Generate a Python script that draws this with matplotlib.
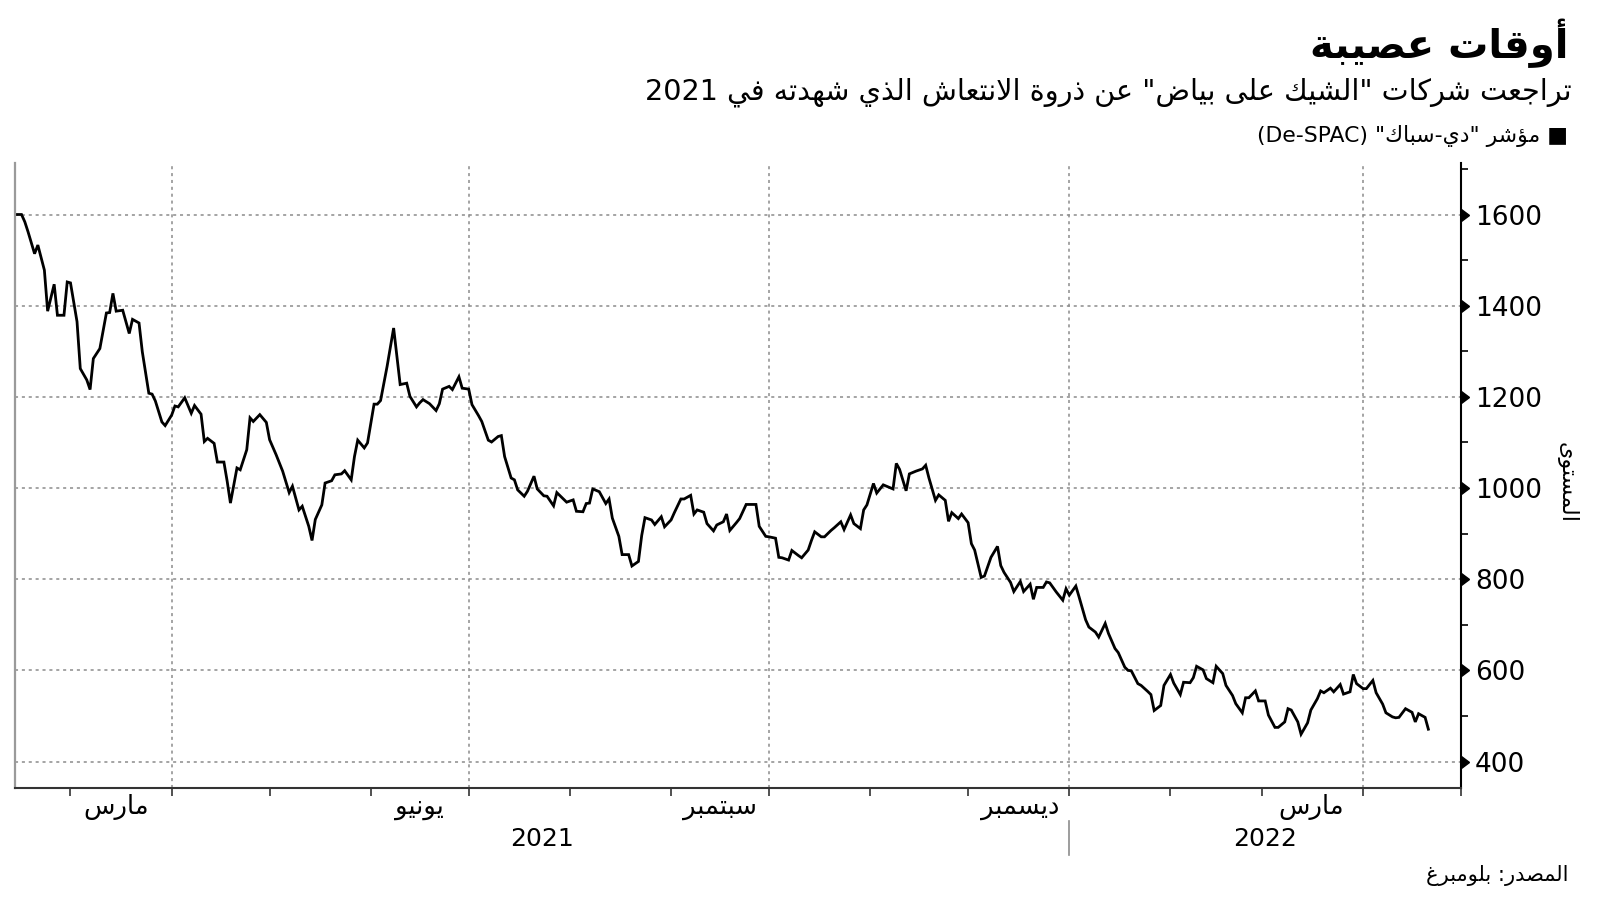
import re
import numpy as np
import pandas as pd
import matplotlib
matplotlib.use('Agg')
import matplotlib.pyplot as plt
import matplotlib.dates as mdates
import matplotlib.markers as mmarkers
from matplotlib.transforms import blended_transform_factory

# De-SPAC index (days counted from the first point)
start = pd.Timestamp('2021-02-12')
day = [0, 2, 3, 4, 6, 7, 9, 10, 12, 13, 15, 16, 17, 19, 20, 22, 23, 24, 26, 28,
       29, 30, 31, 33, 35, 36, 38, 39, 41, 42, 43, 45, 46, 48, 49, 50, 52, 54, 55, 57,
       58, 59, 61, 62, 64, 65, 66, 68, 69, 71, 72, 73, 75, 77, 78, 80, 82, 84, 85, 87,
       88, 90, 91, 92, 94, 95, 97, 98, 100, 101, 103, 104, 105, 107, 108, 110, 111, 112, 114, 116,
       117, 118, 120, 121, 123, 124, 125, 127, 129, 130, 131, 133, 134, 136, 137, 139, 140, 142, 143, 145,
       146, 148, 149, 150, 152, 153, 154, 156, 157, 159, 160, 162, 163, 165, 166, 168, 169, 171, 172, 174,
       175, 176, 177, 179, 181, 182, 183, 185, 186, 188, 189, 191, 192, 193, 195, 196, 198, 199, 201, 202,
       204, 205, 207, 208, 209, 211, 212, 214, 215, 217, 218, 219, 221, 222, 224, 225, 227, 228, 230, 231,
       233, 234, 235, 237, 238, 240, 241, 243, 244, 245, 247, 248, 250, 251, 253, 254, 256, 257, 259, 260,
       261, 263, 264, 266, 267, 269, 270, 271, 273, 274, 276, 278, 279, 280, 282, 283, 285, 286, 287, 289,
       290, 292, 293, 294, 296, 297, 299, 301, 302, 303, 305, 306, 308, 309, 311, 312, 313, 315, 316, 317,
       319, 321, 322, 323, 325, 326, 328, 329, 331, 332, 334, 335, 337, 338, 340, 341, 342, 344, 345, 347,
       348, 349, 351, 352, 354, 355, 357, 358, 360, 361, 362, 364, 365, 367, 368, 370, 371, 373, 374, 376,
       377, 378, 380, 381, 383, 384, 386, 387, 389, 390, 391, 393, 394, 396, 397, 399, 400, 401, 403, 404,
       406, 407, 409, 410, 411, 413, 414, 416, 417, 419, 420, 422, 423, 424, 426, 428, 429, 430, 432, 433]
level = [1600, 1600, 1584, 1562, 1514, 1533, 1478, 1388, 1447, 1379, 1379, 1452, 1450, 1365, 1262, 1237, 1216, 1284, 1306, 1384,
         1385, 1427, 1388, 1390, 1339, 1370, 1362, 1299, 1208, 1206, 1191, 1145, 1137, 1160, 1180, 1178, 1198, 1164, 1181, 1162,
         1102, 1109, 1098, 1057, 1057, 1015, 967, 1044, 1040, 1084, 1154, 1146, 1161, 1144, 1106, 1073, 1037, 990, 1004, 952,
         960, 916, 885, 931, 963, 1011, 1016, 1029, 1031, 1038, 1018, 1069, 1105, 1088, 1099, 1184, 1184, 1192, 1267, 1351,
         1289, 1227, 1230, 1201, 1178, 1187, 1194, 1185, 1170, 1185, 1217, 1223, 1216, 1244, 1219, 1217, 1183, 1159, 1146, 1105,
         1101, 1113, 1115, 1069, 1022, 1018, 996, 982, 993, 1026, 998, 983, 982, 961, 990, 976, 969, 974, 949, 948,
         966, 967, 998, 992, 966, 976, 934, 894, 854, 854, 829, 839, 896, 935, 930, 920, 937, 915, 930, 946,
         976, 976, 984, 943, 952, 947, 922, 906, 919, 926, 943, 907, 924, 933, 964, 964, 964, 916, 894, 893,
         890, 848, 847, 842, 863, 852, 847, 864, 885, 904, 893, 893, 907, 913, 926, 909, 941, 922, 911, 952,
         963, 1010, 989, 1007, 1004, 998, 1054, 1041, 994, 1031, 1037, 1042, 1050, 1022, 973, 985, 973, 927, 946, 933,
         943, 924, 878, 864, 804, 807, 848, 872, 830, 815, 793, 773, 795, 773, 789, 756, 782, 782, 794, 792,
         772, 754, 779, 765, 785, 761, 711, 695, 684, 673, 703, 681, 648, 639, 607, 600, 599, 571, 567, 554,
         547, 512, 523, 567, 591, 572, 547, 574, 573, 584, 609, 601, 582, 573, 609, 593, 567, 545, 527, 507,
         540, 540, 555, 533, 533, 502, 475, 475, 487, 516, 513, 487, 460, 485, 513, 538, 555, 551, 561, 553,
         569, 548, 553, 591, 571, 560, 560, 578, 551, 526, 507, 498, 496, 497, 516, 508, 487, 505, 497, 471]

title = 'أوقات عصيبة'
subtitle = 'تراجعت شركات "الشيك على بياض" عن ذروة الانتعاش الذي شهدته في 2021'
legend_txt = '■ مؤشر "دي-سباك" (De-SPAC)'
ylabel = 'المستوى'
source = 'المصدر: بلومبرغ'
month_names = ['مارس', 'يونيو', 'سبتمبر', 'ديسمبر', 'مارس']
month_label_dates = ['2021-03-15', '2021-06-16', '2021-09-16', '2021-12-17', '2022-03-16']
years = ['2021', '2022']
yticks = [400, 600, 800, 1000, 1200, 1400, 1600]
x_end = pd.Timestamp('2022-05-01')

# --- minimal Arabic shaping + RTL ordering (matplotlib does no text shaping) ---
FORMS = {}
_cp = 0xFE80
_tab = ([(0x621, 1), (0x622, 2), (0x623, 2), (0x624, 2), (0x625, 2), (0x626, 4), (0x627, 2), (0x628, 4), (0x629, 2)]
        + [(c, 4) for c in range(0x62A, 0x62F)] + [(c, 2) for c in range(0x62F, 0x633)]
        + [(c, 4) for c in range(0x633, 0x63B)] + [(c, 4) for c in range(0x641, 0x648)]
        + [(0x648, 2), (0x649, 2), (0x64A, 4)])
for base, n in _tab:
    FORMS[chr(base)] = [chr(_cp + k) for k in range(n)]
    _cp += n
LAMALEF = {'آ': 0xFEF5, 'أ': 0xFEF7, 'إ': 0xFEF9, 'ا': 0xFEFB}
MIRROR = str.maketrans('()', ')(')


def shape(s):
    out = []
    i = 0
    while i < len(s):
        c = s[i]
        if c not in FORMS:
            out.append(c)
            i += 1
            continue
        p = s[i - 1] if i > 0 else ''
        nx = s[i + 1] if i + 1 < len(s) else ''
        jp = p in FORMS and len(FORMS[p]) == 4
        if c == 'ل' and nx in LAMALEF:
            out.append(chr(LAMALEF[nx] + jp))
            i += 2
            continue
        f = FORMS[c]
        jn = len(f) == 4 and nx in FORMS and len(FORMS[nx]) > 1
        if len(f) == 1:
            out.append(f[0])
        elif len(f) == 2:
            out.append(f[1] if jp else f[0])
        else:
            out.append(f[3] if (jp and jn) else f[1] if jp else f[2] if jn else f[0])
        i += 1
    return ''.join(out)


def ar(s):
    s = shape(s)
    runs = re.findall(r'[A-Za-z0-9]+(?:[-.,][A-Za-z0-9]+)*|[^A-Za-z0-9]+', s)
    out = []
    for r in reversed(runs):
        if re.match('[A-Za-z0-9]', r):
            out.append(r)
        else:
            out.append(r[::-1].translate(MIRROR))
    return ''.join(out)


plt.rcParams['font.family'] = ['DejaVu Sans']

dates = start + pd.to_timedelta(day, unit='D')

fig = plt.figure(figsize=(16, 9.01), dpi=100)
ax = fig.add_axes([0.009375, 0.1254, 0.90375, 0.6937])

ax.plot(dates, level, color='black', lw=2.0, solid_joinstyle='miter')

ax.set_xlim(start, x_end)
ax.set_ylim(342, 1713)

# x axis: month ticks, mid-month labels, quarter gridlines
month_starts = pd.date_range('2021-03-01', x_end, freq='MS')
ax.set_xticks(mdates.date2num(month_starts))
ax.set_xticklabels([])
ax.set_xticks(mdates.date2num(pd.to_datetime(month_label_dates)), minor=True)
ax.set_xticklabels([ar(m) for m in month_names], minor=True)
ax.tick_params(axis='x', which='major', length=6, width=1.2, color='#333333')
ax.tick_params(axis='x', which='minor', length=0, pad=4, labelsize=18.5)

grid_kw = dict(color='#8c8c8c', lw=1.1, ls=(0, (2, 2.5)))
for q in pd.date_range('2021-04-01', '2022-04-01', freq='QS'):
    ax.axvline(q, zorder=0, **grid_kw)

# y axis on the right
ax.yaxis.tick_right()
ax.set_yticks(yticks)
ax.set_yticks(np.arange(500, 1800, 200), minor=True)
ax.tick_params(axis='y', which='major', length=9, width=1, pad=1, labelsize=19, colors='black')
ax.tick_params(axis='y', which='minor', length=5, width=1.2, color='black')
for t in ax.yaxis.get_major_ticks():
    t.tick2line.set_marker(mmarkers.CARETRIGHTBASE)
    t.tick2line.set_markersize(8)
ax.grid(axis='y', which='major', zorder=0, **grid_kw)
ax.set_axisbelow(True)

ax.spines['top'].set_visible(False)
ax.spines['left'].set_color('#9a9a9a')
ax.spines['left'].set_linewidth(1.6)
ax.spines['bottom'].set_color('#333333')
ax.spines['bottom'].set_linewidth(1.5)
ax.spines['right'].set_color('black')
ax.spines['right'].set_linewidth(1.5)

# year labels centred on each year's visible span, with a separator
trans = blended_transform_factory(ax.transData, ax.transAxes)
jan1 = pd.Timestamp('2022-01-01')
spans = [(start, jan1), (jan1, x_end)]
for yr, (a, b) in zip(years, spans):
    mid = a + (b - a) / 2
    ax.text(mid, -0.0816, yr, transform=trans, ha='center', va='center', fontsize=18)
ax.axvline(jan1, ymin=-0.107, ymax=-0.053, clip_on=False, color='#8c8c8c', lw=1.2)

# titles and notes
t1 = fig.text(0.98, 0.952, ar(title), ha='right', va='center', fontsize=27, fontweight='bold')
t2 = fig.text(0.982, 0.898, ar(subtitle), ha='right', va='center', fontsize=20)
t3 = fig.text(0.98, 0.849, ar(legend_txt), ha='right', va='center', fontsize=15)
t4 = fig.text(0.979, 0.464, ar(ylabel), ha='center', va='center', fontsize=16, rotation=270)
t5 = fig.text(0.98, 0.028, ar(source), ha='right', va='center', fontsize=16)

# match the widths of the text blocks to the reference
fig.canvas.draw()
r = fig.canvas.get_renderer()
for t, w in [(t1, 258), (t2, 926), (t3, 311), (t5, 143)]:
    bb = t.get_window_extent(r)
    t.set_fontsize(t.get_fontsize() * w / bb.width)

fig.savefig('out.png', dpi=100, facecolor='white')
